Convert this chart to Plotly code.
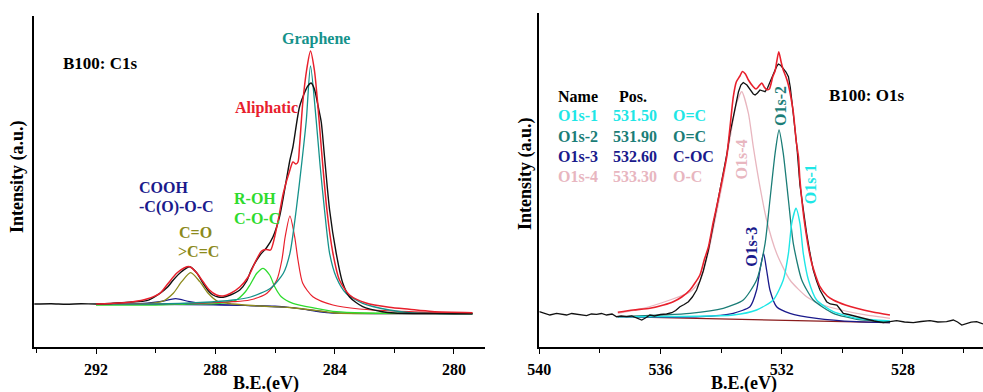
import plotly.graph_objects as go

# ---------------- C1s region (binding energy in eV, intensity in a.u.) ----------------
c1s_raw_be = [294.07, 293.5, 293.0, 292.5, 292.0, 291.5, 291.2, 290.8, 290.3, 289.86, 289.6, 289.41,
              289.15, 288.86, 288.62, 288.41, 288.2, 288.08, 287.9, 287.74, 287.5, 287.18, 286.95, 286.8,
              286.5, 286.29, 286.07, 285.85, 285.62, 285.5, 285.4, 285.18, 285.0, 284.9, 284.79, 284.68,
              284.55, 284.45, 284.34, 284.17, 283.95, 283.73, 283.5, 283.06, 282.4, 282.0, 281.0, 280.0, 279.38]
c1s_raw_int = [43.0, 43.3, 42.8, 43.2, 43.0, 43.5, 44.3, 45.0, 46.3, 53.7, 60.0, 67.0,
               75.0, 80.3, 74.0, 63.7, 55.0, 52.0, 50.0, 49.7, 52.0, 57.0, 66.0, 77.0,
               92.0, 99.0, 110.0, 130.0, 167.0, 187.0, 200.0, 240.0, 255.0, 261.0, 264.0, 258.0,
               240.0, 225.0, 190.0, 137.0, 94.0, 64.0, 50.0, 40.3, 35.3, 34.0, 33.5, 33.3, 33.3]

c1s_env_be = [292.0, 291.5, 290.76, 290.3, 289.86, 289.6, 289.3, 289.05, 288.86, 288.65, 288.41, 288.2,
              287.96, 287.74, 287.5, 287.18, 286.9, 286.63, 286.45, 286.3, 286.15, 285.94, 285.72, 285.5,
              285.4, 285.3, 285.23, 285.18, 285.07, 284.94, 284.81, 284.68, 284.57, 284.45, 284.26, 284.06,
              283.84, 283.5, 282.95, 282.17, 281.5, 280.73, 279.38]
c1s_env_int = [43.0, 43.5, 45.3, 48.0, 53.7, 63.0, 73.7, 79.0, 80.3, 75.0, 65.3, 57.0,
               52.0, 51.0, 53.5, 60.0, 70.0, 87.0, 96.0, 97.5, 97.0, 120.0, 154.0, 177.0,
               185.0, 183.0, 185.0, 200.0, 244.0, 277.0, 296.0, 277.0, 244.0, 200.0, 137.0, 94.0,
               67.0, 52.0, 44.0, 39.7, 37.7, 35.5, 34.3]

c1s_graphene_be = [292.0, 290.0, 288.5, 287.4, 286.82, 286.15, 285.72, 285.5, 285.29, 285.1, 284.95, 284.81,
                   284.62, 284.49, 284.34, 284.17, 283.95, 283.62, 283.06, 282.17, 281.5, 280.5, 279.38]
c1s_graphene_int = [43.0, 43.0, 44.5, 47.0, 50.0, 58.7, 73.7, 93.7, 137.0, 185.0, 227.0, 281.0,
                    227.0, 182.0, 137.0, 93.7, 70.0, 53.7, 43.7, 37.0, 34.3, 33.5, 33.3]

c1s_aliph_be = [292.0, 289.0, 287.4, 286.85, 286.27, 285.94, 285.77, 285.66, 285.5, 285.34, 285.23, 285.07,
                284.73, 284.06, 283.17, 281.5, 280.5, 279.38]
c1s_aliph_int = [43.0, 43.5, 45.3, 47.0, 53.7, 67.0, 87.0, 110.0, 131.0, 110.0, 87.0, 63.7,
                 50.3, 42.0, 38.0, 35.3, 34.5, 34.0]

c1s_roh_be = [292.0, 290.0, 288.97, 287.85, 287.3, 287.0, 286.84, 286.61, 286.4, 286.18, 286.01, 285.79,
              285.4, 284.62, 283.95, 283.0, 281.0, 279.38]
c1s_roh_int = [42.0, 42.0, 43.0, 43.7, 47.0, 55.0, 62.0, 73.7, 78.7, 72.0, 60.3, 50.3,
               43.7, 38.7, 35.3, 34.0, 33.6, 33.5]

c1s_co_be = [292.0, 290.42, 289.75, 289.41, 289.13, 288.83, 288.52, 288.24, 287.91, 287.41, 286.5, 285.5,
             284.5, 284.0, 282.0, 279.38]
c1s_co_int = [43.0, 43.0, 46.0, 53.7, 65.3, 74.3, 65.3, 53.7, 45.3, 43.0, 41.0, 39.5,
              36.0, 34.0, 33.5, 33.3]

c1s_cooh_be = [292.0, 290.75, 289.86, 289.33, 288.86, 288.3, 287.5, 286.5, 285.5, 284.8, 284.2, 283.5,
               282.0, 279.38]
c1s_cooh_int = [43.0, 43.0, 45.3, 48.3, 45.3, 43.0, 42.0, 41.0, 39.5, 37.0, 34.5, 33.7,
                33.5, 33.3]

c1s_bg_be = [292.0, 290.0, 288.0, 287.0, 286.0, 285.5, 285.0, 284.5, 284.0, 283.5, 282.0, 279.38]
c1s_bg_int = [43.0, 42.6, 42.0, 41.5, 40.8, 39.5, 37.5, 35.2, 33.9, 33.5, 33.4, 33.3]

# ---------------- O1s region ----------------
o1s_raw_be = [540.0, 539.82, 539.65, 539.43, 539.25, 539.1, 538.93, 538.77, 538.6, 538.44, 538.28, 538.11,
              537.95, 537.78, 537.6, 537.45, 537.3, 537.12, 536.95, 536.8, 536.62, 536.5, 536.35, 536.2,
              536.0, 535.8, 535.63, 535.5, 535.36, 535.22, 535.08, 534.95, 534.81, 534.7, 534.59, 534.5,
              534.42, 534.26, 534.1, 533.93, 533.8, 533.7, 533.6, 533.5, 533.43, 533.35, 533.27, 533.15,
              533.05, 532.94, 532.88, 532.8, 532.72, 532.63, 532.55, 532.47, 532.39, 532.3, 532.22, 532.15,
              532.11, 532.03, 531.95, 531.86, 531.78, 531.72, 531.67, 531.6, 531.5, 531.4, 531.29, 531.18,
              531.07, 530.96, 530.85, 530.74, 530.63, 530.52, 530.4, 530.3, 530.18, 530.08, 529.97, 529.8,
              529.65, 529.53, 529.35, 529.15, 528.95, 528.8, 528.65, 528.43, 528.21, 527.95, 527.66, 527.4,
              527.11, 526.85, 526.56, 526.34, 526.2, 526.06, 525.9, 525.75, 525.57, 525.36]
o1s_raw_int = [35.3, 33.5, 32.0, 33.7, 33.0, 32.0, 33.5, 33.0, 32.2, 31.3, 33.0, 32.7,
               33.5, 32.0, 33.0, 30.3, 31.0, 30.3, 31.0, 29.5, 27.0, 29.0, 32.0, 31.0,
               32.5, 33.0, 34.3, 36.5, 40.3, 42.5, 45.3, 50.0, 57.0, 66.0, 76.0, 87.0,
               97.0, 122.0, 148.0, 173.0, 195.0, 215.0, 230.0, 246.0, 255.0, 262.0, 264.5, 262.0,
               258.0, 253.0, 252.0, 254.0, 257.0, 256.5, 255.3, 259.0, 265.3, 272.0, 277.0, 281.5,
               283.0, 281.5, 278.7, 275.0, 270.3, 260.0, 247.0, 228.0, 200.0, 162.0, 135.0, 113.7,
               94.0, 77.0, 66.0, 57.0, 51.0, 45.3, 43.0, 42.5, 42.0, 38.0, 33.7, 32.5,
               31.5, 30.3, 29.0, 27.5, 26.0, 25.0, 24.3, 25.3, 26.3, 25.0, 24.3, 25.5,
               26.3, 25.0, 25.3, 27.0, 25.0, 22.0, 23.7, 24.8, 25.3, 23.0]

o1s_env_be = [537.41, 536.9, 536.35, 535.9, 535.58, 535.3, 535.03, 534.7, 534.55, 534.42, 534.26, 534.15,
              533.98, 533.82, 533.7, 533.6, 533.5, 533.38, 533.3, 533.2, 533.1, 532.94, 532.85, 532.77,
              532.66, 532.58, 532.5, 532.41, 532.3, 532.22, 532.1, 532.02, 531.95, 531.86, 531.78, 531.7,
              531.62, 531.52, 531.45, 531.4, 531.23, 531.01, 530.74, 530.5, 530.3, 529.9, 529.53, 529.0, 528.43]
o1s_env_int = [34.7, 37.0, 38.7, 42.0, 45.3, 50.0, 57.0, 72.0, 88.0, 100.0, 125.0, 140.0,
               165.0, 190.0, 222.0, 250.0, 265.0, 271.0, 275.5, 273.0, 267.0, 260.3, 258.0, 260.3,
               264.0, 260.0, 257.5, 258.0, 270.0, 276.0, 295.3, 285.0, 277.0, 270.0, 262.0, 250.0,
               235.0, 205.0, 190.3, 167.0, 120.3, 83.7, 60.3, 51.0, 47.0, 42.0, 38.7, 35.0, 32.0]

o1s_p4_be = [537.41, 536.57, 535.69, 535.03, 534.7, 534.42, 534.26, 533.93, 533.7, 533.5, 533.32, 533.1,
             532.94, 532.72, 532.5, 532.17, 531.73, 531.18, 530.63, 529.53, 528.43]
o1s_p4_int = [33.7, 38.7, 47.0, 55.0, 66.0, 95.0, 118.0, 168.0, 210.0, 243.0, 255.3, 233.7,
              200.3, 160.3, 127.0, 93.7, 67.0, 50.3, 42.0, 33.7, 28.7]

o1s_p2_be = [537.41, 535.03, 533.93, 533.27, 532.83, 532.55, 532.39, 532.22, 532.09, 531.95, 531.78, 531.62,
             531.34, 530.96, 530.3, 529.53, 528.43]
o1s_p2_int = [30.3, 33.7, 38.7, 47.0, 67.0, 103.7, 147.0, 193.7, 217.0, 193.7, 147.0, 103.7,
              67.0, 47.0, 33.7, 27.7, 25.3]

o1s_p3_be = [537.41, 534.7, 533.6, 533.05, 532.83, 532.72, 532.6, 532.5, 532.39, 532.17, 531.73, 530.85,
             529.53, 528.43]
o1s_p3_int = [30.3, 30.3, 33.7, 40.3, 57.0, 77.0, 93.5, 77.0, 57.0, 40.3, 33.7, 28.7,
              25.3, 24.3]

o1s_p1_be = [537.41, 533.6, 532.83, 532.28, 531.95, 531.78, 531.67, 531.53, 531.4, 531.29, 531.12, 530.85,
             530.3, 529.53, 528.43]
o1s_p1_int = [30.3, 32.0, 37.0, 47.0, 67.0, 93.7, 123.7, 138.7, 123.7, 93.7, 67.0, 47.0,
              35.3, 28.7, 26.0]

o1s_bg_be = [537.41, 533.0, 528.43]
o1s_bg_int = [30.3, 27.4, 24.3]

# peak table shown in the O1s panel
o1s_names = ["O1s-1", "O1s-2", "O1s-3", "O1s-4"]
o1s_positions = ["531.50", "531.90", "532.60", "533.30"]
o1s_bonds = ["O=C", "O=C", "C-OC", "O-C"]

# ---------------- styling ----------------
FONT = "Liberation Serif, Times New Roman, serif"
RED = "#e8202c"
TEAL = "#15928b"
TEAL_DARK = "#1b7d77"
GREEN = "#2edb2e"
OLIVE = "#8c8a1c"
NAVY = "#1a1a8c"
CYAN = "#1ee6e6"
PINK = "#e8b6bf"
MAROON = "#8b1c1c"
W, H = 983, 392

fig = go.Figure()

c1s_lines = [
    (c1s_bg_be, c1s_bg_int, NAVY, 1.2, "spline"),
    (c1s_cooh_be, c1s_cooh_int, NAVY, 1.2, "spline"),
    (c1s_co_be, c1s_co_int, OLIVE, 1.3, "spline"),
    (c1s_roh_be, c1s_roh_int, GREEN, 1.3, "spline"),
    (c1s_aliph_be, c1s_aliph_int, RED, 1.2, "spline"),
    (c1s_graphene_be, c1s_graphene_int, TEAL, 1.3, "spline"),
    (c1s_raw_be, c1s_raw_int, "#111111", 1.4, "spline"),
    (c1s_env_be, c1s_env_int, RED, 1.5, "spline"),
]
for xs, ys, col, w, shape in c1s_lines:
    fig.add_trace(go.Scatter(x=xs, y=ys, mode="lines", xaxis="x", yaxis="y",
                             line=dict(color=col, width=w, shape=shape, smoothing=0.7),
                             showlegend=False, hoverinfo="skip"))

o1s_lines = [
    (o1s_bg_be, o1s_bg_int, MAROON, 1.3, "linear"),
    (o1s_p4_be, o1s_p4_int, PINK, 1.3, "spline"),
    (o1s_p3_be, o1s_p3_int, NAVY, 1.3, "spline"),
    (o1s_p2_be, o1s_p2_int, TEAL_DARK, 1.3, "spline"),
    (o1s_p1_be, o1s_p1_int, CYAN, 1.4, "spline"),
    (o1s_raw_be, o1s_raw_int, "#111111", 1.3, "linear"),
    (o1s_env_be, o1s_env_int, RED, 1.6, "spline"),
]
for xs, ys, col, w, shape in o1s_lines:
    fig.add_trace(go.Scatter(x=xs, y=ys, mode="lines", xaxis="x2", yaxis="y2",
                             line=dict(color=col, width=w, shape=shape, smoothing=0.6),
                             showlegend=False, hoverinfo="skip"))

bold = dict(family=FONT, size=16, color="black", weight="bold")
xcommon = dict(showline=True, linecolor="black", linewidth=1.5, ticks="outside", ticklen=5,
               tickwidth=1.2, tickcolor="black", dtick=4, showgrid=False, zeroline=False,
               tickfont=bold, ticklabelstandoff=2, automargin=False,
               minor=dict(ticks="outside", dtick=2, ticklen=4, tickwidth=1.2, tickcolor="black", showgrid=False))
ycommon = dict(showline=True, linecolor="black", linewidth=1.5, ticks="", showticklabels=False,
               showgrid=False, zeroline=False, automargin=False)

fig.update_layout(
    width=W, height=H, margin=dict(l=0, r=0, t=0, b=0, pad=0, autoexpand=False),
    paper_bgcolor="white", plot_bgcolor="white",
    xaxis=dict(domain=[34 / W, 485 / W], range=[294.08, 278.96], tick0=280, anchor="y", **xcommon),
    yaxis=dict(domain=[45 / H, 376 / H], range=[0, 331], anchor="x", **ycommon),
    xaxis2=dict(domain=[539.3 / W, 1.0], range=[540, 525.36], tick0=528, anchor="y2", **xcommon),
    yaxis2=dict(domain=[45 / H, 379 / H], range=[0, 334], anchor="x2", **ycommon),
)


def note(text, x, y, color, size=16, xref="x", yref="y", xanchor="left", angle=0):
    fig.add_annotation(text=f"<b>{text}</b>", x=x, y=y, xref=xref, yref=yref, showarrow=False,
                       xanchor=xanchor, yanchor="middle", textangle=angle, borderpad=0,
                       font=dict(family=FONT, size=size, color=color))


# C1s panel labels
note("B100: C1s", 293.14, 284, "black", size=17)
note("Graphene", 284.62, 308, TEAL, xanchor="center")
note("Aliphatic", 286.3, 239, RED, xanchor="center")
note("COOH", 290.6, 160, NAVY)
note("-C(O)-O-C", 290.6, 140, NAVY)
note("R-OH", 287.42, 149, GREEN)
note("C-O-C", 287.42, 129, GREEN)
note("C=O", 289.24, 115, OLIVE)
note(">C=C", 289.27, 96, OLIVE)

# O1s panel labels
note("B100: O1s", 530.47, 252, "black", size=17, xref="x2", yref="y2")
note("Name", 539.43, 251, "black", xref="x2", yref="y2")
note("Pos.", 537.40, 251, "black", xref="x2", yref="y2")
row_colors = [CYAN, TEAL_DARK, NAVY, PINK]
row_h = [232, 211, 191, 171]
for name, pos, bond, col, hy in zip(o1s_names, o1s_positions, o1s_bonds, row_colors, row_h):
    note(name, 539.43, hy, col, xref="x2", yref="y2")
    note(pos, 537.6, hy, col, xref="x2", yref="y2")
    note(bond, 535.63, hy, col, xref="x2", yref="y2")

note("O1s-4", 533.33, 188, PINK, xref="x2", yref="y2", xanchor="center", angle=-90)
note("O1s-2", 532.06, 241, TEAL_DARK, xref="x2", yref="y2", xanchor="center", angle=-90)
note("O1s-1", 531.06, 163, CYAN, xref="x2", yref="y2", xanchor="center", angle=-90)
note("O1s-3", 533.02, 100, NAVY, xref="x2", yref="y2", xanchor="center", angle=-90)

# axis titles
note("Intensity (a.u.)", 18 / W, 1 - 177 / H, "black", size=18, xref="paper", yref="paper",
     xanchor="center", angle=-90)
note("Intensity (a.u.)", 525 / W, 1 - 174 / H, "black", size=18, xref="paper", yref="paper",
     xanchor="center", angle=-90)
note("B.E.(eV)", 266 / W, 1 - 383 / H, "black", size=18, xref="paper", yref="paper", xanchor="center")
note("B.E.(eV)", 744 / W, 1 - 383 / H, "black", size=18, xref="paper", yref="paper", xanchor="center")

fig.write_html("out.html")
